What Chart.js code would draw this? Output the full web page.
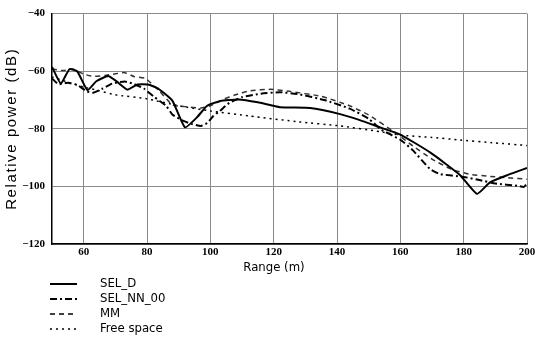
<!DOCTYPE html>
<html>
<head>
<meta charset="utf-8">
<script src="https://cdn.jsdelivr.net/npm/chart.js@4/dist/chart.umd.min.js"></script>
<style>
  html, body { margin: 0; padding: 0; background: #fff; }
  #wrap { width: 535px; height: 343px; }
</style>
</head>
<body>
<div id="wrap"><canvas id="rangeChart" width="535" height="343"></canvas></div>
<script>
// x ticks / y ticks
const xTicks = [60, 80, 100, 120, 140, 160, 180, 200];
const yTicks = [-120, -100, -80, -60, -40];

// SEL_D (solid)
const selDRange = [50, 52.8, 55.5, 58, 61.2, 64, 67.7, 70.5, 73.8, 77, 80.3, 83.5, 88, 92, 95.8, 99, 103, 109, 115, 122, 131.5, 141, 147, 153.6, 160, 169.4, 178.8, 184.2, 188.3, 194, 200];
const selDPower = [-58.5, -64.3, -59.3, -60.1, -66.6, -63.5, -61.7, -63.6, -66.4, -64.6, -64.6, -66, -70.2, -79.5, -76, -72, -70.4, -69.8, -70.8, -72.5, -72.8, -74.9, -76.9, -79.5, -82, -88.2, -96, -102.6, -98.6, -96, -93.6];

// SEL_NN_00 (dash-dot)
const selNNRange = [50, 52, 55, 58, 61, 63, 66, 69, 73, 76, 79, 82, 86, 88, 91, 94, 97, 99, 101, 103, 106, 110, 116, 122, 128, 136, 144, 150, 154, 160, 164, 169.4, 172.5, 180, 185, 190, 197, 199, 200];
const selNNPower = [-62.5, -64.5, -64, -64.8, -67, -67.5, -66, -64.3, -63.6, -64.5, -66, -68.7, -72, -75, -77, -78.3, -79, -78, -75.5, -73.8, -71, -69, -67.8, -67.3, -68, -70, -73, -76.5, -80.3, -83.8, -87.5, -94, -95.7, -96.7, -97.8, -99, -99.8, -100.2, -99];

// MM (dashed)
const mmRange = [50, 53.5, 56.5, 60, 63, 66.7, 70, 73, 76, 79.5, 84, 88, 92, 97, 100, 104, 108, 112.5, 119, 125, 135, 144, 150, 158, 164, 170, 176, 182, 188, 194, 200];
const mmPower = [-59.2, -59.8, -59.2, -61, -61.8, -61.5, -60.9, -60.5, -61.9, -62.5, -67, -71.7, -72.3, -72.8, -72, -69.8, -68.2, -66.8, -66.3, -67, -68.7, -72, -75.2, -81, -86, -90.5, -94, -95.8, -96.5, -97, -97.5];

// Free space (dotted)
const freeRange = [50, 55, 60, 65, 70, 80, 90, 100, 112.5, 128, 141, 153.6, 160, 170, 178, 190, 200];
const freePower = [-62, -63.8, -65.5, -66.8, -68.2, -69.6, -72, -73.8, -75.6, -77.6, -79, -81, -82.2, -83, -83.8, -84.9, -85.8];

const seriesNames = ['SEL_D', 'SEL_NN_00', 'MM', 'Free space'];
const xTitle = 'Range (m)';
const yTitle = 'Relative power (dB)';

function pts(xs, ys) {
  return xs.map((x, i) => ({ x: x, y: ys[i] }));
}

const labelFont = 'DejaVu Sans Condensed, DejaVu Sans, sans-serif';

// axis titles + legend, drawn by hand so spacing can match the print
const extraText = {
  id: 'extraText',
  afterDraw(chart) {
    const ctx = chart.ctx;
    const area = chart.chartArea;
    ctx.save();
    ctx.fillStyle = '#000';
    ctx.textBaseline = 'middle';

    // y title, rotated, a bit letter-spaced
    ctx.save();
    ctx.translate(12, (area.top + area.bottom) / 2);
    ctx.rotate(-Math.PI / 2);
    ctx.font = '15px Liberation Sans, sans-serif';
    ctx.letterSpacing = '1.6px';
    ctx.textAlign = 'center';
    ctx.fillText(yTitle, 0, 0);
    ctx.restore();

    // x title
    ctx.font = '13px ' + labelFont;
    ctx.textAlign = 'center';
    ctx.fillText(xTitle, 274, 268);

    // legend rows
    const rowTop = 284, rowGap = 15;
    ctx.textAlign = 'left';
    chart.data.datasets.forEach((ds, i) => {
      const y = rowTop + i * rowGap;
      ctx.beginPath();
      ctx.setLineDash(ds.borderDash || []);
      ctx.lineWidth = ds.borderWidth;
      ctx.strokeStyle = '#000';
      ctx.moveTo(50, y);
      ctx.lineTo(77, y);
      ctx.stroke();
      ctx.setLineDash([]);
      ctx.font = '13px ' + labelFont;
      ctx.fillText(ds.label, 100, y);
    });
    ctx.restore();
  }
};

const ctx = document.getElementById('rangeChart').getContext('2d');
new Chart(ctx, {
  type: 'line',
  data: {
    datasets: [
      { label: seriesNames[0], data: pts(selDRange, selDPower), borderColor: '#000', borderWidth: 2, borderDash: [] },
      { label: seriesNames[1], data: pts(selNNRange, selNNPower), borderColor: '#000', borderWidth: 2, borderDash: [7, 3, 2, 3] },
      { label: seriesNames[2], data: pts(mmRange, mmPower), borderColor: '#333', borderWidth: 1.5, borderDash: [5, 4] },
      { label: seriesNames[3], data: pts(freeRange, freePower), borderColor: '#000', borderWidth: 1.5, borderDash: [2, 4] }
    ]
  },
  options: {
    responsive: false,
    animation: false,
    events: [],
    elements: { point: { radius: 0 }, line: { tension: 0.15, fill: false } },
    layout: { padding: { top: 9, right: 8, bottom: 67, left: 0 } },
    plugins: { legend: { display: false }, tooltip: { enabled: false } },
    scales: {
      x: {
        type: 'linear',
        min: 50, max: 200,
        afterBuildTicks: s => { s.ticks = xTicks.map(v => ({ value: v })); },
        afterFit: s => { s.height = 32; s.paddingLeft = 0; s.paddingRight = 0; },
        grid: { color: '#8a8a8a', lineWidth: 1, drawTicks: false },
        border: { color: '#000', width: 1.5 },
        ticks: { color: '#000', padding: 2, maxRotation: 0, font: { family: 'Liberation Serif', size: 11, weight: 'bold' } },
        title: { display: false }
      },
      y: {
        min: -120, max: -40,
        afterBuildTicks: s => { s.ticks = yTicks.map(v => ({ value: v })); },
        afterFit: s => { s.width = 52; },
        grid: { color: '#8a8a8a', lineWidth: 1, drawTicks: false },
        border: { color: '#000', width: 1.5 },
        ticks: { color: '#000', padding: 7, font: { family: 'Liberation Serif', size: 11, weight: 'bold' },
                 callback: v => (v < 0 ? '\u2212' + Math.abs(v) : v) },
        title: { display: false }
      }
    }
  },
  plugins: [extraText]
});
</script>
</body>
</html>
